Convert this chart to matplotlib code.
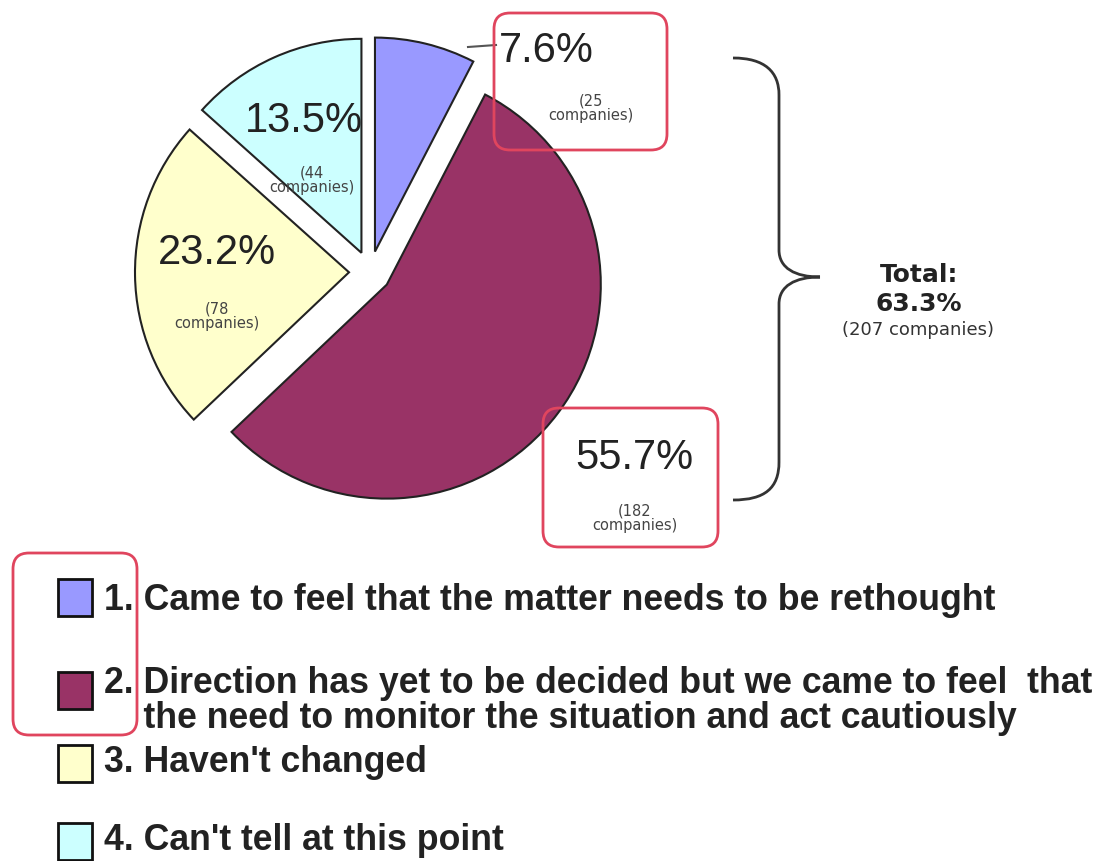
import matplotlib.pyplot as plt
from matplotlib.patches import FancyBboxPatch, Rectangle, PathPatch
from matplotlib.path import Path

# Data
categories = ["1", "2", "3", "4"]
companies = [25, 182, 78, 44]
pct_labels = ["7.6%", "55.7%", "23.2%", "13.5%"]
colors = ["#9999FF", "#993366", "#FFFFCC", "#CCFFFF"]
legend_labels = [
    "1. Came to feel that the matter needs to be rethought",
    "2. Direction has yet to be decided but we came to feel  that\n    the need to monitor the situation and act cautiously",
    "3. Haven't changed",
    "4. Can't tell at this point",
]
total_lines = ["Total:", "63.3%", "(207 companies)"]

W, H = 1100, 861


def Y(y):
    # image coords (top-down) -> data coords
    return H - y


fig = plt.figure(figsize=(11, 8.61), dpi=100)
ax = fig.add_axes([0, 0, 1, 1])

# Exploded pie, clockwise from 12 o'clock
ax.pie(companies, colors=colors, startangle=90, counterclock=False,
       radius=214, center=(370, Y(272)), explode=[21] * 4,
       wedgeprops=dict(edgecolor="#222222", linewidth=1.5))

ax.set_xlim(0, W)
ax.set_ylim(0, H)
ax.set_aspect("equal")
ax.axis("off")

# Percent labels and company counts
label_pos = [(546, 51), (634, 458), (217, 253), (304, 121)]
count_pos = [(591, 108), (635, 518), (217, 316), (312, 180)]
for pct, n, (x, y), (cx, cy) in zip(pct_labels, companies, label_pos, count_pos):
    ax.text(x, Y(y), pct, fontsize=30, family="Liberation Sans",
            color="#222222", ha="center", va="center")
    ax.text(cx, Y(cy), f"({n}\ncompanies)", fontsize=10.5, family="DejaVu Sans",
            color="#444444", ha="center", va="center", linespacing=0.95)

# Leader line from the small wedge to its label
ax.plot([468, 496], [Y(47), Y(45)], color="#555555", lw=1.5)

# Red highlight boxes
red = "#E0455E"
for x0, y0, x1, y1 in [(494, 13, 667, 150), (543, 408, 718, 547), (13, 553, 137, 735)]:
    ax.add_patch(FancyBboxPatch((x0, Y(y1)), x1 - x0, y1 - y0,
                                boxstyle="round,pad=0,rounding_size=16",
                                fill=False, edgecolor=red, lw=2, zorder=5))

# Curly brace
verts = [(733, 58), (765, 58), (779, 72), (779, 95),
         (779, 250),
         (779, 268), (795, 277), (820, 277),
         (795, 277), (779, 286), (779, 304),
         (779, 462),
         (779, 488), (765, 500), (733, 500)]
codes = [Path.MOVETO, Path.CURVE4, Path.CURVE4, Path.CURVE4,
         Path.LINETO,
         Path.CURVE4, Path.CURVE4, Path.CURVE4,
         Path.CURVE4, Path.CURVE4, Path.CURVE4,
         Path.LINETO,
         Path.CURVE4, Path.CURVE4, Path.CURVE4]
brace = Path([(x, Y(y)) for x, y in verts], codes)
ax.add_patch(PathPatch(brace, fill=False, edgecolor="#333333", lw=2))

ax.text(919, Y(275), total_lines[0], fontsize=18, fontweight="bold",
        color="#222222", ha="center", va="center")
ax.text(919, Y(304), total_lines[1], fontsize=18, fontweight="bold",
        color="#222222", ha="center", va="center")
ax.text(918, Y(330), total_lines[2], fontsize=13,
        color="#333333", ha="center", va="center")

# Legend
sq_top = [579, 672, 745, 823]
text_y = [600, 701, 762, 840]
for color, lab, top, ty in zip(colors, legend_labels, sq_top, text_y):
    ax.add_patch(Rectangle((58, Y(top + 37)), 34, 37, facecolor=color,
                           edgecolor="#111111", lw=2))
    ax.text(104, Y(ty), lab, fontsize=25.7, fontweight="bold",
            family="Liberation Sans", color="#222222",
            ha="left", va="center", linespacing=1.0)

fig.savefig("out.png", dpi=100, facecolor="white")
